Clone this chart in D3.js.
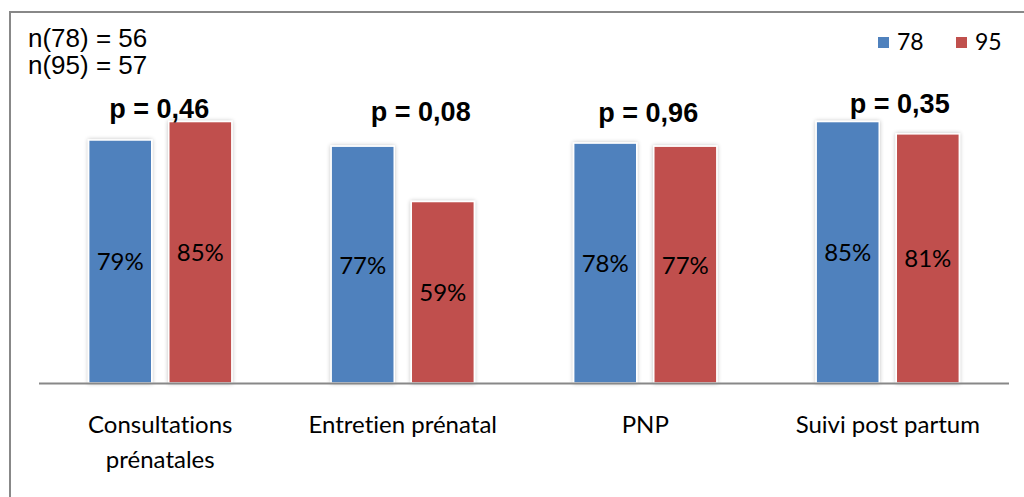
<!DOCTYPE html>
<html><head><meta charset="utf-8">
<script src="https://cdn.jsdelivr.net/npm/d3@7"></script>
<style>body{margin:0;background:#fff}svg{display:block}text{font-variant-ligatures:none}</style>
</head><body>
<svg id="c" width="1024" height="497"></svg>
<script>
const categories = [["Consultations","prénatales"],["Entretien prénatal"],["PNP"],["Suivi post partum"]];
const seriesNames = ["78","95"];
const values78 = [79,77,78,85];
const values95 = [85,59,77,81];
const pValues = ["p = 0,46","p = 0,08","p = 0,96","p = 0,35"];
const nLabels = ["n(78) = 56","n(95) = 57"];
const colors = ["#4f81bd","#c0504d"];
// manual text-box offsets for p labels (layout only)
const pOffsets = [[-1,118],[18,121],[3,122],[12,113]];

const svg = d3.select("#c");
const defs = svg.append("defs");
const f = defs.append("filter").attr("id","sh").attr("x","-20%").attr("y","-20%").attr("width","140%").attr("height","140%");
f.append("feGaussianBlur").attr("in","SourceAlpha").attr("stdDeviation",2).attr("result","b");
f.append("feComponentTransfer").attr("in","b").attr("result","b2").append("feFuncA").attr("type","linear").attr("slope",0.25);
const m = f.append("feMerge"); m.append("feMergeNode").attr("in","b2"); m.append("feMergeNode").attr("in","SourceGraphic");

// frame
svg.append("path").attr("d","M10,497 L10,12 L1024,12").attr("fill","none").attr("stroke","#888").attr("stroke-width",2);

const x0 = d3.scaleBand().domain(d3.range(4)).range([39,1009]);
const x1 = d3.scaleBand().domain(seriesNames).range([0,x0.bandwidth()]).paddingInner(0.2125).paddingOuter(0.62);
const y = d3.scaleLinear().domain([0,100]).range([383,75.4]);

const data = categories.map((c,i)=>({i, vals:[values78[i],values95[i]]}));
const g = svg.selectAll("g.grp").data(data).join("g").attr("transform",d=>`translate(${x0(d.i)},0)`);
g.selectAll("rect").data(d=>d.vals.map((v,j)=>({v,j}))).join("rect")
  .attr("x",d=>x1(seriesNames[d.j])).attr("width",x1.bandwidth())
  .attr("y",d=>y(d.v)).attr("height",d=>y(0)-y(d.v))
  .attr("fill",d=>colors[d.j]).attr("stroke","#fff").attr("stroke-width",1.5).attr("filter","url(#sh)");
g.selectAll("text.val").data(d=>d.vals.map((v,j)=>({v,j}))).join("text").attr("class","val")
  .attr("x",d=>x1(seriesNames[d.j])+x1.bandwidth()/2).attr("y",d=>(y(d.v)+y(0))/2+9)
  .attr("text-anchor","middle").attr("font-family","Lato, 'Open Sans', sans-serif").attr("font-size",24).attr("fill","#000")
  .text(d=>d.v+"%");

// axis line
svg.append("line").attr("x1",39).attr("x2",1009).attr("y1",383.5).attr("y2",383.5).attr("stroke","#888").attr("stroke-width",2);

// category labels
g.append("text").attr("x",x0.bandwidth()/2).attr("y",433).attr("text-anchor","middle")
  .attr("font-family","Lato, 'Open Sans', sans-serif").attr("font-size",24).attr("fill","#000")
  .selectAll("tspan").data(d=>categories[d.i]).join("tspan").attr("x",x0.bandwidth()/2).attr("dy",(d,k)=>k?35:0).text(d=>d);

// p labels
g.append("text").attr("x",d=>x0.bandwidth()/2+pOffsets[d.i][0]).attr("y",d=>pOffsets[d.i][1])
  .attr("text-anchor","middle").attr("font-family","Liberation Sans, Arial, sans-serif").attr("font-weight","bold").attr("font-size",27)
  .text(d=>pValues[d.i]);

// n labels
svg.selectAll("text.n").data(nLabels).join("text").attr("class","n").attr("x",28).attr("y",(d,i)=>47+i*27)
  .attr("font-family","Liberation Sans, Arial, sans-serif").attr("font-size",26).text(d=>d);

// legend
const lg = svg.selectAll("g.lg").data(seriesNames).join("g").attr("transform",(d,i)=>`translate(${878+i*78},37)`);
lg.append("rect").attr("width",11).attr("height",11).attr("fill",(d,i)=>colors[i]);
lg.append("text").attr("x",19).attr("y",13).attr("font-family","Lato, 'Open Sans', sans-serif").attr("font-size",23).text(d=>d);
</script>
</body></html>
